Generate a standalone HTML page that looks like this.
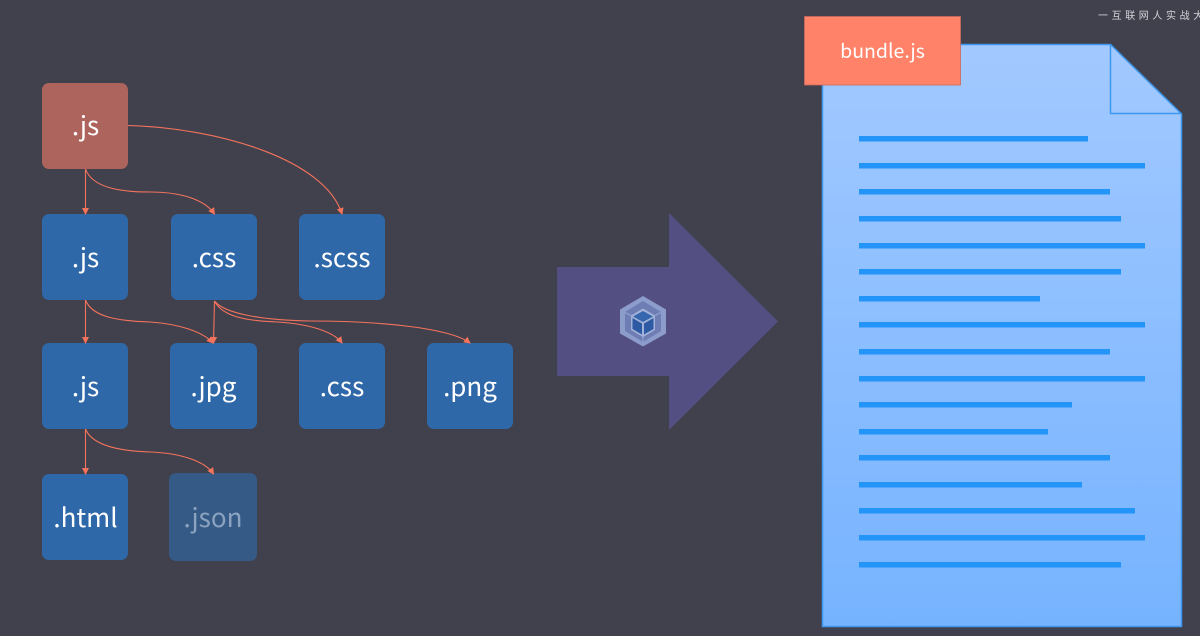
<!DOCTYPE html>
<html lang="zh">
<head>
<meta charset="utf-8">
<title>bundle diagram</title>
<style>
html,body{margin:0;padding:0;background:#40414d;width:1200px;height:636px;overflow:hidden}
svg{display:block}
text{font-family:"Noto Sans CJK SC","Liberation Sans",sans-serif;text-anchor:middle;fill:#fff}
</style>
</head>
<body>
<svg width="1200" height="636" viewBox="0 0 1200 636" xmlns="http://www.w3.org/2000/svg">
<defs>
<linearGradient id="doc" x1="0" y1="0" x2="0" y2="1">
<stop offset="0" stop-color="#a2c9ff"/>
<stop offset="1" stop-color="#76b3ff"/>
</linearGradient>
<marker id="a" markerWidth="7" markerHeight="8" refX="6" refY="4" orient="auto" markerUnits="userSpaceOnUse">
<path d="M0 0.500L7 4L0 7.500Z" fill="#f4735c"/>
</marker>
</defs>
<rect width="1200" height="636" fill="#40414d"/>

<!-- nodes -->
<g>
<rect x="42" y="83" width="86" height="86" rx="7" fill="#ad645c"/>
<rect x="42" y="214" width="86" height="86" rx="7" fill="#2f68a8"/>
<rect x="171" y="214" width="86" height="86" rx="7" fill="#2f68a8"/>
<rect x="299" y="214" width="86" height="86" rx="7" fill="#2f68a8"/>
<rect x="42" y="343" width="86" height="86" rx="7" fill="#2f68a8"/>
<rect x="170" y="343" width="87" height="86" rx="7" fill="#2f68a8"/>
<rect x="299" y="343" width="86" height="86" rx="7" fill="#2f68a8"/>
<rect x="427" y="343" width="86" height="86" rx="7" fill="#2f68a8"/>
<rect x="42" y="474" width="86" height="86" rx="7" fill="#2f68a8"/>
<rect x="169" y="473" width="88" height="88" rx="7" fill="#355a86"/>
</g>
<g font-size="26">
<text x="85.500" y="135">.js</text>
<text x="85.500" y="267">.js</text>
<text x="214" y="267">.css</text>
<text x="342" y="267">.scss</text>
<text x="85.500" y="396">.js</text>
<text x="213.500" y="396">.jpg</text>
<text x="342" y="396">.css</text>
<text x="470" y="396">.png</text>
<text x="85.500" y="527">.html</text>
<text x="213" y="527" style="fill:#8ba3c0">.json</text>
</g>

<!-- connectors -->
<g fill="none" stroke="#f4735c" stroke-width="1.100">
<path d="M85.500 169V214" marker-end="url(#a)"/>
<path d="M85.500 169C92 187 118 192 150 192C182 192 205 200 214.500 214" marker-end="url(#a)"/>
<path d="M128 125.500C220 128 325 160 342 214" marker-end="url(#a)"/>
<path d="M85.500 300V343" marker-end="url(#a)"/>
<path d="M85.500 300C92 317 118 321 150 322C180 324 203 332 213 343" marker-end="url(#a)"/>
<path d="M214.500 301L213.500 343" marker-end="url(#a)"/>
<path d="M214.500 301C222 316 245 321 278 322C308 324 333 331 342 343" marker-end="url(#a)"/>
<path d="M214.500 301C225 314 262 320 310 321C380 321 450 328 470 343" marker-end="url(#a)"/>
<path d="M85.500 429V474" marker-end="url(#a)"/>
<path d="M85.500 429C92 445 118 451 150 452C180 453 205 461 213.500 474" marker-end="url(#a)"/>
</g>

<!-- big arrow -->
<polygon points="557,267 669,267 669,213 778,321.500 669,430 669,376 557,376" fill="#544f82"/>

<!-- webpack cube -->
<g>
<polygon points="643,296 666,309.500 666,333.500 643,346.500 620,333.500 620,309.500" fill="#8c9ccb"/>
<polygon points="643,301 661,312 661,331 643,342 625,331 625,312" fill="#6f7db5"/>
<path d="M622 311L632 316M664 311L654 316M643 345V336" stroke="#8c9ccb" stroke-width="1.500" fill="none"/>
<polygon points="643,308.500 655,315.500 655,330 643,337 631,330 631,315.500" fill="#a3b2d9"/>
<polygon points="643,311 653,316.500 643,322 633,316.500" fill="#3566ae"/>
<polygon points="632.500,318 642,323.500 642,334.500 632.500,329" fill="#2d5aa2"/>
<polygon points="653.500,318 644,323.500 644,334.500 653.500,329" fill="#2d5aa2"/>
</g>

<!-- document -->
<path d="M822.500 44.500H1110.500L1181.500 114V626.500H822.500Z" fill="url(#doc)" stroke="#3d97ee" stroke-width="1.500"/>
<path d="M1110.500 44.500V113.500H1181.500" fill="none" stroke="#3d97ee" stroke-width="1.500"/>
<g fill="#2394f8">
<rect x="859" y="136" width="229" height="5.500"/>
<rect x="859" y="163" width="286" height="5.500"/>
<rect x="859" y="189" width="251" height="5.500"/>
<rect x="859" y="216" width="262" height="5.500"/>
<rect x="859" y="243" width="286" height="5.500"/>
<rect x="859" y="269" width="262" height="5.500"/>
<rect x="859" y="296" width="181" height="5.500"/>
<rect x="859" y="322" width="286" height="5.500"/>
<rect x="859" y="349" width="251" height="5.500"/>
<rect x="859" y="376" width="286" height="5.500"/>
<rect x="859" y="402" width="213" height="5.500"/>
<rect x="859" y="429" width="189" height="5.500"/>
<rect x="859" y="455" width="251" height="5.500"/>
<rect x="859" y="482" width="223" height="5.500"/>
<rect x="859" y="508" width="276" height="5.500"/>
<rect x="859" y="535" width="286" height="5.500"/>
<rect x="859" y="562" width="262" height="5.500"/>
</g>

<!-- bundle tag -->
<rect x="804.500" y="16.500" width="156" height="68.500" fill="#ff8269" stroke="#c76a5c" stroke-width="0.800"/>
<text x="882.500" y="58" font-size="19.500">bundle.js</text>

<!-- watermark -->
<text x="1098" y="19" font-size="10" letter-spacing="3.600" style="text-anchor:start;fill:#d3d4d8">一互联网人实战大学</text>
</svg>
</body>
</html>
